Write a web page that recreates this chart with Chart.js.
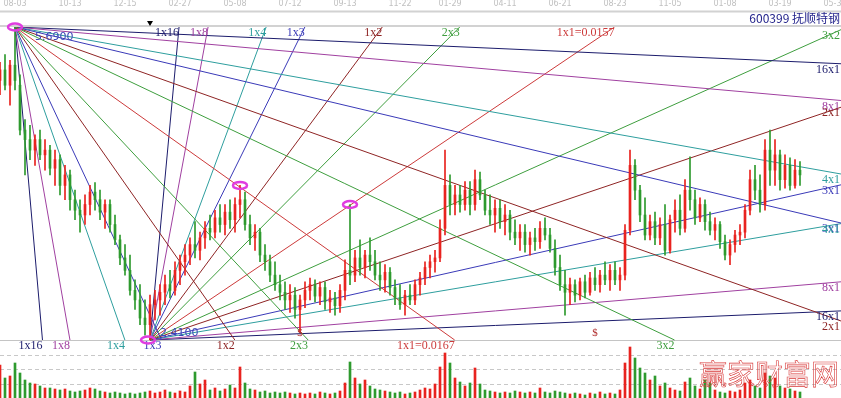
<!DOCTYPE html>
<html>
<head>
<meta charset="utf-8">
<title>600399 抚顺特钢</title>
<script src="https://cdn.jsdelivr.net/npm/chart.js@4.4.0/dist/chart.umd.min.js"></script>
<style>
  html, body { margin: 0; padding: 0; background: #fff; }
  canvas { display: block; }
</style>
</head>
<body>
<canvas id="kline" width="841" height="398"></canvas>
<script>
// daily candles (price in yuan)
const opens = [
  5.13,5.24,5.08,5.29,5.08,4.61,4.51,4.40,4.51,4.35,
  4.40,4.21,4.30,4.03,4.14,3.88,3.77,3.72,3.83,3.96,
  3.88,3.75,3.83,3.62,3.46,3.27,3.14,2.93,2.83,2.64,
  2.57,2.78,2.83,2.91,2.99,2.93,3.14,3.23,3.30,3.41,
  3.35,3.48,3.58,3.54,3.69,3.62,3.75,3.67,3.83,3.88,
  3.62,3.48,3.54,3.30,3.23,3.09,2.99,2.91,2.83,2.88,
  2.73,2.83,2.93,2.99,2.87,2.96,2.81,2.85,2.77,2.93,
  3.14,3.09,3.27,3.17,3.30,3.23,3.09,3.04,3.12,2.96,
  2.85,2.78,2.88,2.83,2.99,3.06,3.17,3.23,3.27,3.58,
  4.03,3.83,3.93,3.83,3.98,3.83,4.09,3.93,3.77,3.72,
  3.79,3.65,3.72,3.54,3.48,3.54,3.41,3.48,3.44,3.58,
  3.51,3.37,3.17,2.99,2.91,2.99,2.88,3.02,2.91,3.06,
  2.99,3.09,3.04,3.14,3.04,3.09,3.56,4.24,3.98,3.72,
  3.51,3.65,3.48,3.62,3.35,3.67,3.77,3.58,3.98,3.88,
  3.69,3.83,3.65,3.56,3.62,3.44,3.30,3.41,3.51,3.54,
  3.77,4.09,3.98,3.83,4.40,4.19,4.35,4.09,4.24,4.03,
  4.19
];
const highs = [
  5.32,5.40,5.34,5.69,5.19,4.72,4.66,4.56,4.61,4.51,
  4.45,4.40,4.35,4.24,4.19,3.98,3.88,3.93,4.03,4.06,
  3.98,3.88,3.88,3.72,3.51,3.41,3.30,3.04,2.99,2.83,
  2.88,2.93,2.99,3.09,3.14,3.23,3.30,3.41,3.48,3.65,
  3.54,3.65,3.72,3.77,3.83,3.83,3.88,3.90,4.03,3.96,
  3.72,3.62,3.58,3.41,3.30,3.23,3.09,3.02,2.99,2.96,
  2.88,3.02,3.06,3.04,3.02,3.02,2.93,2.91,2.99,3.25,
  3.83,3.35,3.46,3.35,3.48,3.35,3.23,3.20,3.17,3.04,
  2.99,2.93,2.99,3.04,3.12,3.23,3.30,3.35,3.67,4.40,
  4.14,4.03,4.03,4.07,4.07,4.19,4.17,3.98,3.93,3.88,
  3.88,3.83,3.77,3.67,3.62,3.62,3.54,3.58,3.65,3.69,
  3.58,3.46,3.30,3.14,3.06,3.04,3.06,3.09,3.12,3.17,
  3.14,3.23,3.20,3.23,3.17,3.62,4.40,4.30,4.03,3.90,
  3.72,3.75,3.69,3.83,3.72,3.88,3.93,4.09,4.33,3.98,
  3.90,3.88,3.75,3.69,3.65,3.51,3.46,3.56,3.62,3.83,
  4.19,4.24,4.14,4.51,4.61,4.51,4.40,4.35,4.32,4.30,
  4.28
];
const lows = [
  4.98,5.03,4.87,5.03,4.56,4.14,4.30,4.24,4.30,4.19,
  4.14,4.03,3.93,3.88,3.77,3.67,3.54,3.62,3.72,3.77,
  3.67,3.58,3.54,3.41,3.20,3.09,2.88,2.73,2.57,2.46,
  2.41,2.62,2.67,2.78,2.85,2.88,2.99,3.09,3.20,3.27,
  3.25,3.37,3.46,3.48,3.54,3.51,3.58,3.54,3.69,3.56,
  3.41,3.35,3.23,3.14,3.02,2.93,2.83,2.73,2.70,2.64,
  2.49,2.75,2.83,2.81,2.78,2.73,2.70,2.67,2.70,2.83,
  2.99,3.02,3.09,3.06,3.14,3.04,2.93,2.91,2.88,2.78,
  2.73,2.67,2.78,2.78,2.88,2.99,3.06,3.12,3.23,3.51,
  3.72,3.72,3.75,3.77,3.72,3.77,3.88,3.72,3.62,3.54,
  3.58,3.51,3.46,3.41,3.35,3.33,3.30,3.35,3.37,3.46,
  3.33,3.09,2.93,2.67,2.78,2.81,2.83,2.85,2.88,2.93,
  2.91,2.99,2.93,2.99,2.93,3.04,3.51,3.88,3.65,3.46,
  3.46,3.41,3.41,3.30,3.32,3.54,3.51,3.54,3.77,3.62,
  3.65,3.56,3.51,3.46,3.37,3.25,3.20,3.33,3.41,3.48,
  3.72,3.88,3.75,3.77,4.03,4.03,3.98,4.00,3.98,4.00,
  4.03
];
const closes = [
  5.24,5.08,5.29,5.13,4.61,4.51,4.40,4.51,4.35,4.40,
  4.21,4.30,4.03,4.14,3.88,3.77,3.72,3.83,3.96,3.88,
  3.75,3.83,3.62,3.46,3.27,3.14,2.93,2.83,2.64,2.57,
  2.78,2.83,2.91,2.99,2.93,3.14,3.23,3.30,3.41,3.35,
  3.48,3.58,3.54,3.69,3.62,3.75,3.67,3.83,3.88,3.62,
  3.48,3.54,3.30,3.23,3.09,2.99,2.91,2.83,2.88,2.73,
  2.83,2.93,2.99,2.87,2.96,2.81,2.85,2.77,2.93,3.14,
  3.09,3.27,3.17,3.30,3.23,3.09,3.04,3.12,2.96,2.85,
  2.78,2.88,2.83,2.99,3.06,3.17,3.23,3.27,3.58,4.03,
  3.83,3.93,3.83,3.98,3.83,4.09,3.93,3.77,3.72,3.79,
  3.65,3.72,3.54,3.48,3.54,3.41,3.48,3.44,3.58,3.51,
  3.37,3.17,2.99,2.91,2.99,2.88,3.02,2.91,3.06,2.99,
  3.09,3.04,3.14,3.04,3.09,3.56,4.24,3.98,3.72,3.51,
  3.65,3.48,3.62,3.35,3.67,3.77,3.58,3.98,3.88,3.69,
  3.83,3.65,3.56,3.62,3.44,3.30,3.41,3.51,3.54,3.77,
  4.09,3.98,3.83,4.40,4.19,4.35,4.09,4.24,4.03,4.19,
  4.14
];
// volume (10k lots)
const volumes = [
  33,20,22,35,25,18,15,14,12,10,
  10,9,8,9,7,6,7,8,10,9,
  7,6,5,6,5,4,5,4,5,6,
  7,5,6,8,6,5,7,6,12,26,
  14,18,8,10,7,9,13,10,31,15,
  9,8,6,7,5,6,5,6,5,4,
  5,4,5,4,6,5,4,5,7,15,
  36,20,14,18,12,9,8,7,6,5,
  6,4,5,6,8,10,9,14,31,45,
  35,20,16,12,15,30,14,8,7,6,
  5,6,5,7,6,5,6,5,10,6,
  5,7,6,5,4,5,4,3,5,4,
  6,4,5,4,8,35,51,40,30,25,
  18,22,12,15,10,8,7,16,20,12,
  9,18,15,8,6,5,7,6,8,15,
  18,12,10,25,22,20,12,10,9,7,
  6
];

// date ticks on the top strip
const dateLabels = ['08-03','10-13','12-15','02-27','05-08','07-12','09-13','11-22','01-29','04-11','06-21','08-23','11-05','01-08','03-19','05-31'];
const dateTickIdx = [3,14,25,36,47,58,69,80,90,101,112,123,134,145,156,167];

// gann fans: names, price multiple of the 1x1 rate, colour
const fanNames = ['1x16','1x8','1x4','1x3','1x2','2x3','1x1','3x2','2x1','3x1','4x1','8x1','16x1'];
const fanMults = [16, 8, 4, 3, 2, 1.5, 1, 2/3, 1/2, 1/3, 1/4, 1/8, 1/16];
const fanColors = ['#1c1c6c','#a040a0','#2e9e9e','#3a3ab8','#8e2424','#3e9e3e','#cc3a3a',
                   '#3e9e3e','#8e2424','#3a3ab8','#2e9e9e','#a040a0','#1c1c6c'];

// fan origins: the high and the low
const pivotIdx = [3, 30];
const pivotPrice = [5.69, 2.41];
const pivotDir = [-1, 1];
const pivotStep = [0.0373, 0.0353];     // price per bar of each 1x1 line
const pivotTag = ['0.0167', '0.0157'];
const pivotText = ['5.6900', '2.4100'];

const markedHighs = [48, 70];   // circled tops
const dollarMarks = [60, 119];

const priceTop = 5.69, priceBottom = 2.41;
const volTop = 58;
const xMax = 168.2;
const mainH = 313, volH = 58;   // panel heights in px

const idx = opens.map((_, i) => i);
const candleColor = idx.map(i => closes[i] >= opens[i] ? '#e8231f' : '#2e9a2e');

// fan lines
const fanLines = [];
pivotIdx.forEach((px, p) => {
  const target = pivotDir[p] < 0 ? priceBottom : priceTop;
  fanMults.forEach((m, k) => {
    const slope = pivotDir[p] * pivotStep[p] * m;
    let x2 = px + (target - pivotPrice[p]) / slope;
    let y2 = target;
    let edge = 'end';
    if (x2 > xMax) {
      x2 = xMax;
      y2 = pivotPrice[p] + slope * (xMax - px);
      edge = 'right';
    }
    fanLines.push({
      name: fanNames[k] === '1x1' ? '1x1=' + pivotTag[p] : fanNames[k],
      color: fanColors[k],
      from: { x: px, y: pivotPrice[p] },
      to: { x: x2, y: y2 },
      edge: edge,
      dir: pivotDir[p]
    });
  });
});

const decorations = {
  id: 'decorations',
  beforeDatasetsDraw(chart) {
    const { ctx, chartArea, scales: { y, yv } } = chart;
    const w = chart.width;
    ctx.save();
    ctx.strokeStyle = '#d2d2d2';
    ctx.lineWidth = 2;
    ctx.beginPath();
    ctx.moveTo(0, 11.5); ctx.lineTo(w, 11.5);
    ctx.moveTo(0, chartArea.top - 1); ctx.lineTo(w, chartArea.top - 1);
    ctx.stroke();

    // separator between price and volume
    ctx.lineWidth = 1;
    ctx.strokeStyle = '#c4c4c4';
    const ySep = Math.round(y.getPixelForValue(priceBottom)) + 0.5;
    ctx.beginPath();
    ctx.moveTo(0, ySep); ctx.lineTo(w, ySep);
    ctx.stroke();

    // dashed volume grid
    ctx.setLineDash([4, 3]);
    ctx.strokeStyle = '#c8c8c8';
    [0.25, 0.5, 0.75].forEach(f => {
      const yy = Math.round(yv.getPixelForValue(volTop * f)) + 0.5;
      ctx.beginPath();
      ctx.moveTo(0, yy); ctx.lineTo(w, yy);
      ctx.stroke();
    });
    ctx.restore();
  },
  afterDatasetsDraw(chart) {
    const { ctx, scales: { x, y } } = chart;
    const w = chart.width;
    ctx.save();

    // dates
    ctx.font = '8px "DejaVu Sans"';
    ctx.fillStyle = '#c0c0c0';
    ctx.textAlign = 'center';
    ctx.textBaseline = 'middle';
    dateTickIdx.forEach((t, i) => ctx.fillText(dateLabels[i], x.getPixelForValue(t), 4));

    // title
    ctx.font = '12px "Noto Sans CJK SC"';
    ctx.fillStyle = '#24248c';
    ctx.textAlign = 'right';
    ctx.fillText('600399 抚顺特钢', w - 1, 18);

    // fan labels
    ctx.font = '12px "Liberation Serif"';
    fanLines.forEach(l => {
      ctx.fillStyle = l.color;
      ctx.textAlign = 'right';
      const ex = x.getPixelForValue(l.to.x);
      const ey = y.getPixelForValue(l.to.y);
      if (l.edge === 'right') {
        ctx.fillText(l.name, w - 1, ey + 6);
      } else if (l.dir < 0) {
        ctx.fillText(l.name, ex, 346);
      } else {
        ctx.fillText(l.name, ex, 33);
      }
    });

    // pivot prices
    ctx.font = '11px "DejaVu Sans"';
    ctx.fillStyle = '#3c46b8';
    ctx.textAlign = 'left';
    const p0x = x.getPixelForValue(pivotIdx[0]), p0y = y.getPixelForValue(pivotPrice[0]);
    const p1x = x.getPixelForValue(pivotIdx[1]), p1y = y.getPixelForValue(pivotPrice[1]);
    ctx.fillText(pivotText[0], p0x + 20, p0y + 10);
    ctx.fillText(pivotText[1], p1x + 10, p1y - 7);

    // little marker above the low
    ctx.fillStyle = '#000';
    ctx.beginPath();
    ctx.moveTo(p1x - 3, 21); ctx.lineTo(p1x + 3, 21); ctx.lineTo(p1x, 26);
    ctx.closePath();
    ctx.fill();

    // $ marks
    ctx.font = '11px "Liberation Serif"';
    ctx.fillStyle = '#b02c2c';
    ctx.textAlign = 'center';
    dollarMarks.forEach(i => ctx.fillText('$', x.getPixelForValue(i), y.getPixelForValue(priceBottom) - 7));

    // magenta rings
    ctx.strokeStyle = '#e03ce0';
    ctx.lineWidth = 2.5;
    const rings = [[p0x, p0y], [p1x - 2, p1y]].concat(markedHighs.map(i => [x.getPixelForValue(i), y.getPixelForValue(highs[i])]));
    rings.forEach(r => {
      ctx.beginPath();
      ctx.ellipse(r[0], r[1], 7, 3.5, 0, 0, Math.PI * 2);
      ctx.stroke();
    });

    // watermark
    ctx.font = '28px "Noto Sans CJK SC"';
    ctx.strokeStyle = '#d83a3a';
    ctx.lineWidth = 0.6;
    ctx.textAlign = 'center';
    ctx.textBaseline = 'middle';
    '赢家财富网'.split('').forEach((c, i) => ctx.strokeText(c, 713 + i * 28, 374));

    ctx.restore();
  }
};

new Chart(document.getElementById('kline'), {
  type: 'bar',
  data: {
    datasets: [
      {
        label: '影线',
        data: idx.map(i => ({ x: i, y: [lows[i], highs[i]] })),
        backgroundColor: candleColor,
        barThickness: 1,
        grouped: false,
        order: 1
      },
      {
        label: '实体',
        data: idx.map(i => ({ x: i, y: [Math.min(opens[i], closes[i]), Math.max(opens[i], closes[i])] })),
        backgroundColor: candleColor,
        barThickness: 2,
        minBarLength: 1,
        grouped: false,
        order: 0
      },
      {
        label: '成交量',
        data: idx.map(i => ({ x: i, y: volumes[i] })),
        yAxisID: 'yv',
        backgroundColor: candleColor,
        barThickness: 2,
        grouped: false,
        order: 0
      }
    ].concat(fanLines.map(l => ({
      type: 'line',
      label: l.name,
      data: [l.from, l.to],
      borderColor: l.color,
      borderWidth: 1,
      pointRadius: 0,
      fill: false,
      order: 2
    })))
  },
  options: {
    responsive: false,
    animation: false,
    events: [],
    layout: { padding: { top: 27, left: 0, right: 0, bottom: 0 } },
    plugins: { legend: { display: false }, tooltip: { enabled: false } },
    scales: {
      x: { type: 'linear', min: 0, max: xMax, offset: false, display: false },
      y: { type: 'linear', min: priceBottom - (priceTop - priceBottom) * volH / mainH, max: priceTop, display: false },
      yv: { type: 'linear', min: 0, max: volTop * (mainH + volH) / volH, display: false }
    }
  },
  plugins: [decorations]
});
</script>
</body>
</html>
